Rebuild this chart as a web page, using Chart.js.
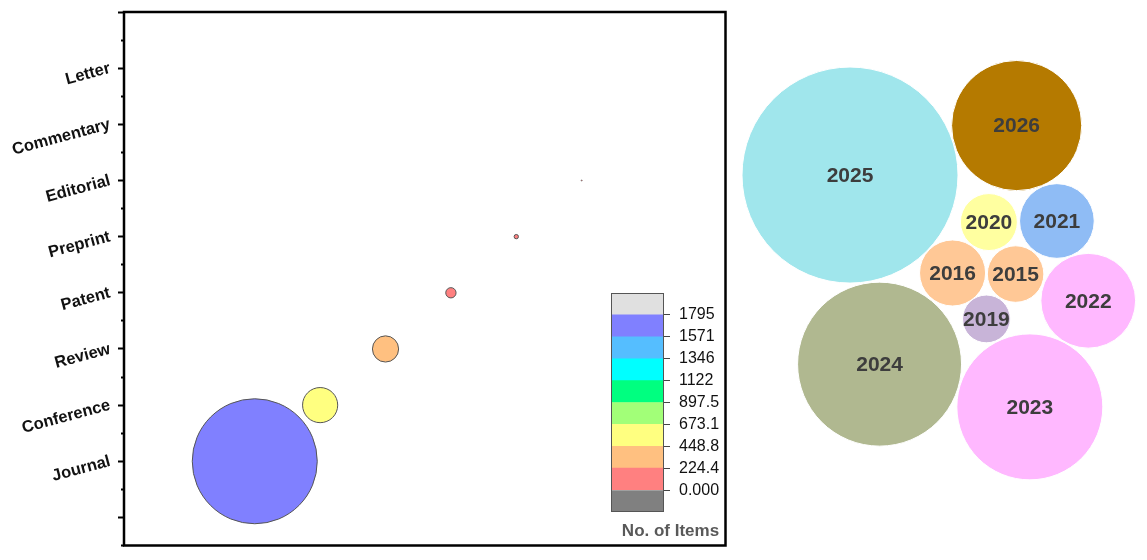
<!DOCTYPE html>
<html><head><meta charset="utf-8">
<script src="https://cdn.jsdelivr.net/npm/chart.js@4.4.1/dist/chart.umd.min.js"></script>
<style>
html,body{margin:0;padding:0;background:#fff;}
#wrap{position:relative;width:1147px;height:560px;overflow:hidden;background:#fff;}
canvas{position:absolute;}
#c1{left:0;top:0;}
#c2{left:595px;top:280px;}
#c3{left:730px;top:0;}
</style></head><body>
<div id="wrap">
<canvas id="c1" width="740" height="560"></canvas>
<canvas id="c3" width="417" height="560"></canvas>
<canvas id="c2" width="135" height="270"></canvas>
</div>
<script>
// ---- data: document types (left bubble chart) ----
const itemTypes = ['Journal','Conference','Review','Patent','Preprint','Editorial','Commentary','Letter'];
const itemCounts = [1700, 478, 356, 140, 59, 16, 2, 1];
// ---- colour scale (legend) ----
const levelBounds = [0, 224.4, 448.8, 673.1, 897.5, 1122, 1346, 1571, 1795];
const levelTickLabels = ['0.000','224.4','448.8','673.1','897.5','1122','1346','1571','1795'];
const levelColors = ['#808080','#FF8080','#FFC080','#FFFF80','#A2FF78','#00FF80','#00FFFF','#55BEFF','#8080FF','#E0E0E0'];
// ---- data: publication years (packed bubbles) ----
const years = ['2025','2026','2020','2021','2016','2015','2022','2019','2024','2023'];
const yearCounts = [920, 334, 64, 110, 86, 63, 177, 45, 530, 420];
const packX = [33.7, 80.5, 72.7, 91.8, 62.5, 80.2, 100.6, 72.0, 42.0, 84.2];
const packY = [108.1, 122.0, 94.9, 95.2, 80.6, 80.3, 72.8, 67.7, 55.0, 43.0];
const yearColors = ['#A0E6EC','#B57A00','#FFFFA0','#8FBCF5','#FFC896','#FFC896','#FFB8FF','#C8B4D8','#B0B890','#FFB8FF'];

const FONT = '"Liberation Sans", Arial, sans-serif';
Chart.defaults.font.family = FONT;
Chart.defaults.animation = false;

function levelColor(v){
  let idx = 0;
  for (let i = 0; i < levelBounds.length; i++) if (v >= levelBounds[i]) idx = i + 1;
  return levelColors[idx];
}
function noScalePadding(s){ s.paddingTop = 0; s.paddingBottom = 0; }

// ---------- left bubble chart ----------
const maxCount = Math.max(...itemCounts);
const MAX_R = 62.5;
const framePlugin = {
  id: 'frame',
  afterDraw(chart){
    const a = chart.chartArea, ctx = chart.ctx;
    ctx.save();
    ctx.strokeStyle = '#000';
    ctx.lineWidth = 2.5;
    ctx.strokeRect(a.left, a.top, a.right - a.left, a.bottom - a.top);
    ctx.restore();
  }
};
new Chart(document.getElementById('c1'), {
  type: 'bubble',
  data: {
    datasets: [{
      data: itemTypes.map((t, i) => ({x: i + 1, y: i + 1, r: itemCounts[i] / maxCount * MAX_R})),
      backgroundColor: itemCounts.map(levelColor),
      borderColor: '#555',
      borderWidth: itemCounts.map(v => Math.min(1, v / maxCount * MAX_R)),
      clip: false
    }]
  },
  options: {
    responsive: false,
    devicePixelRatio: 1,
    layout: {autoPadding: false, padding: {left: 0, top: 12, right: 14.5, bottom: 14.5}},
    plugins: {legend: {display: false}, tooltip: {enabled: false}},
    scales: {
      x: {type: 'linear', display: false, min: -1, max: 8.2},
      y: {
        type: 'linear', position: 'left', weight: 1, min: -0.5, max: 9,
        afterBuildTicks(s){ s.ticks = [0,1,2,3,4,5,6,7,8,9].map(v => ({value: v})); },
        afterFit(s){ s.width = 124; noScalePadding(s); },
        border: {display: false},
        grid: {drawOnChartArea: false, drawTicks: true, tickLength: 6, tickWidth: 2, tickColor: '#000'},
        ticks: {
          minRotation: 15, maxRotation: 15, padding: 8,
          color: '#111', font: {size: 16.5, weight: 'bold', family: FONT},
          callback: v => (v >= 1 && v <= itemTypes.length) ? itemTypes[v - 1] : ''
        }
      },
      yMinor: {
        type: 'linear', position: 'left', weight: 0, min: -0.5, max: 9,
        afterBuildTicks(s){ const t = []; for (let v = -0.5; v <= 8.5; v += 1) t.push({value: v}); s.ticks = t; },
        afterFit(s){ s.width = 0; noScalePadding(s); },
        border: {display: false},
        grid: {drawOnChartArea: false, drawTicks: true, tickLength: 3, tickWidth: 2, tickColor: '#000'},
        ticks: {display: false}
      }
    }
  },
  plugins: [framePlugin]
});

// ---------- colour bar legend ----------
const step = levelBounds[1] - levelBounds[0];
const bandRanges = [[levelBounds[0] - step, levelBounds[0]]];
for (let i = 0; i < levelBounds.length - 1; i++) bandRanges.push([levelBounds[i], levelBounds[i + 1]]);
bandRanges.push([levelBounds[levelBounds.length - 1], levelBounds[levelBounds.length - 1] + step]);
const outlinePlugin = {
  id: 'outline',
  afterDatasetsDraw(chart){
    const a = chart.chartArea, ctx = chart.ctx;
    ctx.save();
    ctx.strokeStyle = '#555';
    ctx.lineWidth = 1;
    ctx.strokeRect(a.left + 0.5, a.top + 0.5, a.right - a.left - 1, a.bottom - a.top - 1);
    ctx.restore();
  }
};
new Chart(document.getElementById('c2'), {
  type: 'bar',
  data: {
    labels: [''],
    datasets: bandRanges.map((rg, i) => ({
      data: [rg], backgroundColor: levelColors[i], borderWidth: 0,
      grouped: false, barPercentage: 1, categoryPercentage: 1
    }))
  },
  options: {
    responsive: false,
    devicePixelRatio: 1,
    layout: {autoPadding: false, padding: {left: 16, top: 13, right: 0, bottom: 8.6}},
    plugins: {
      legend: {display: false}, tooltip: {enabled: false},
      title: {display: true, text: 'No. of Items', position: 'bottom', color: '#595959',
        font: {size: 17, weight: 'bold', family: FONT}, padding: {top: 9, bottom: 0}}
    },
    scales: {
      x: {display: false},
      y: {
        position: 'right', min: bandRanges[0][0], max: bandRanges[bandRanges.length - 1][1],
        afterBuildTicks(s){ s.ticks = levelBounds.map(v => ({value: v})); },
        afterFit(s){ s.width = 66; noScalePadding(s); },
        border: {display: false},
        grid: {drawOnChartArea: false, drawTicks: true, tickLength: 6, tickWidth: 1, tickColor: '#444'},
        ticks: {padding: 9, color: '#111', font: {size: 16, family: FONT},
          callback: (v, i) => levelTickLabels[i]}
      }
    }
  },
  plugins: [outlinePlugin]
});

// ---------- packed year bubbles ----------
const PACK_PX = 3.561;
const c3 = document.getElementById('c3');
const labelPlugin = {
  id: 'yearLabels',
  afterDatasetsDraw(chart){
    const ctx = chart.ctx;
    const meta = chart.getDatasetMeta(0);
    ctx.save();
    ctx.font = 'bold 21px ' + FONT;
    ctx.fillStyle = '#3d3d3d';
    ctx.textAlign = 'center';
    ctx.textBaseline = 'middle';
    meta.data.forEach((el, i) => ctx.fillText(years[i], el.x, el.y + 1));
    ctx.restore();
  }
};
new Chart(c3, {
  type: 'bubble',
  data: {
    datasets: [{
      data: years.map((y, i) => ({x: packX[i], y: packY[i], r: Math.sqrt(yearCounts[i]) * PACK_PX})),
      backgroundColor: yearColors,
      borderColor: '#fff',
      borderWidth: 1,
      clip: false
    }]
  },
  options: {
    responsive: false,
    devicePixelRatio: 1,
    layout: {autoPadding: false, padding: 0},
    plugins: {legend: {display: false}, tooltip: {enabled: false}},
    scales: {
      x: {type: 'linear', display: false, min: 0, max: c3.width / PACK_PX},
      y: {type: 'linear', display: false, min: 0, max: c3.height / PACK_PX}
    }
  },
  plugins: [labelPlugin]
});
</script>
</body></html>
